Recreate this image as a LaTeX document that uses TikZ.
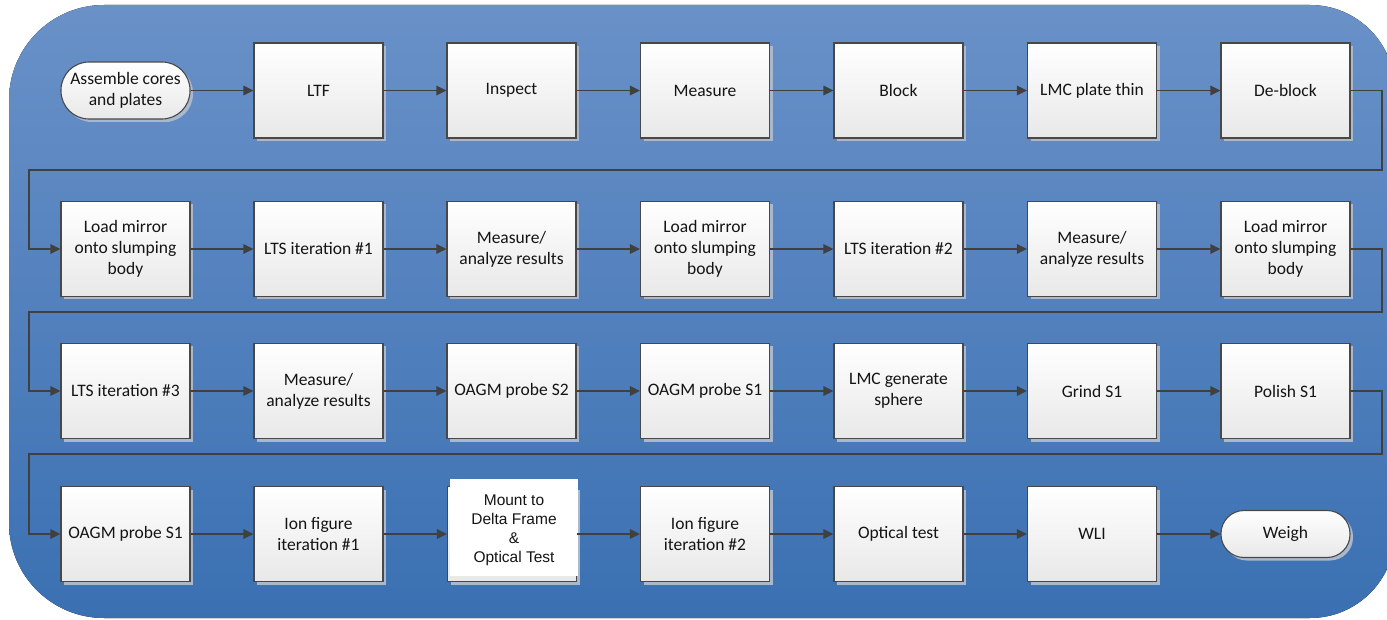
\documentclass[tikz,border=0pt]{standalone}
\usepackage{fontspec}
\setmainfont{Carlito}
\newfontfamily\arialf{Liberation Sans}
\usetikzlibrary{arrows.meta,shadows}
\definecolor{bgtop}{RGB}{106,145,200}
\definecolor{bgbot}{RGB}{58,112,178}
\definecolor{edgec}{RGB}{72,72,72}
\definecolor{arrowc}{RGB}{64,64,64}
\definecolor{boxbot}{RGB}{232,232,232}
\definecolor{shadowc}{RGB}{170,184,206}
\definecolor{txtc}{RGB}{20,20,20}
\begin{document}
\begin{tikzpicture}[x=1pt,y=-1pt,
  procbox/.style={draw=edgec, line width=1.1pt, top color=white, bottom color=boxbot,
    minimum width=129pt, minimum height=95pt, inner sep=2pt, align=center,
    font=\fontsize{17.5}{21}\selectfont, text=txtc,
    drop shadow={shadow xshift=3pt, shadow yshift=-3pt, fill=shadowc, opacity=1}},
  termbox/.style={procbox, rounded corners=#1},
  mountbox/.style={fill=white, draw=none, minimum width=128pt, minimum height=97pt, inner sep=0pt},
  mounttext/.style={inner sep=0pt, align=center, font=\arialf\fontsize{15.5}{19}\selectfont, text=txtc},
  arr/.style={draw=arrowc, line width=1.5pt, -{Triangle[length=10pt,width=9.5pt]}}
]
\clip (0,0) rectangle (1387,620);
\useasboundingbox (0,0) rectangle (1387,620);
\fill[top color=bgtop, bottom color=bgbot]
  (9,300) [rounded corners=95pt] -- (9,5) [rounded corners=85pt] -- (1395,5)
  -- (1395,618) [rounded corners=95pt] -- (9,618) -- cycle;

% row 1
\node[termbox=28pt, minimum height=57pt] (a1) at (125.5,90.5) {Assemble cores\\and plates};
\node[procbox] (a2) at (318.5,90.5) {LTF};
\node[procbox] (a3) at (511.5,90.5) {Inspect};
\node[procbox] (a4) at (705,90.5) {Measure};
\node[procbox] (a5) at (898.5,90.5) {Block};
\node[procbox] (a6) at (1092,90.5) {LMC plate thin};
\node[procbox] (a7) at (1285.5,90.5) {De-block};
% row 2
\node[procbox] (b1) at (125.5,249) {Load mirror\\onto slumping\\body};
\node[procbox] (b2) at (318.5,249) {LTS iteration \#1};
\node[procbox] (b3) at (511.5,249) {Measure/\\analyze results};
\node[procbox] (b4) at (705,249) {Load mirror\\onto slumping\\body};
\node[procbox] (b5) at (898.5,249) {LTS iteration \#2};
\node[procbox] (b6) at (1092,249) {Measure/\\analyze results};
\node[procbox] (b7) at (1285.5,249) {Load mirror\\onto slumping\\body};
% row 3
\node[procbox] (c1) at (125.5,391) {LTS iteration \#3};
\node[procbox] (c2) at (318.5,391) {Measure/\\analyze results};
\node[procbox] (c3) at (511.5,391) {OAGM probe S2};
\node[procbox] (c4) at (705,391) {OAGM probe S1};
\node[procbox] (c5) at (898.5,391) {LMC generate\\sphere};
\node[procbox] (c6) at (1092,391) {Grind S1};
\node[procbox] (c7) at (1285.5,391) {Polish S1};
% row 4
\node[procbox] (d1) at (125.5,534) {OAGM probe S1};
\node[procbox] (d2) at (318.5,534) {Ion figure\\iteration \#1};
\node[procbox] (d3) at (512,534) {};
\node[mountbox] (d3w) at (514,527.5) {};
\node[mounttext] (d3t) at (514,530) {Mount to\\Delta Frame\\\&\\Optical Test};
\node[procbox] (d4) at (705,534) {Ion figure\\iteration \#2};
\node[procbox] (d5) at (898.5,534) {Optical test};
\node[procbox] (d6) at (1092,534) {WLI};
\node[termbox=23pt, minimum height=47pt] (d7) at (1285.5,534) {Weigh};

% horizontal connectors
\foreach \r in {a,b,c,d}{
  \foreach \i [evaluate=\i as \j using int(\i+1)] in {1,...,6}{
    \draw[arr] (\r\i.east) -- (\r\j.west);
  }
}

% wrap connectors
\coordinate (w1r) at (1382,170);
\coordinate (w1l) at (29,170);
\coordinate (w2r) at (1382,312);
\coordinate (w2l) at (29,312);
\coordinate (w3r) at (1382,454);
\coordinate (w3l) at (29,454);
\draw[arr] (a7.east) -| (w1r) -- (w1l) |- (b1.west);
\draw[arr] (b7.east) -| (w2r) -- (w2l) |- (c1.west);
\draw[arr] (c7.east) -| (w3r) -- (w3l) |- (d1.west);
\end{tikzpicture}
\end{document}
